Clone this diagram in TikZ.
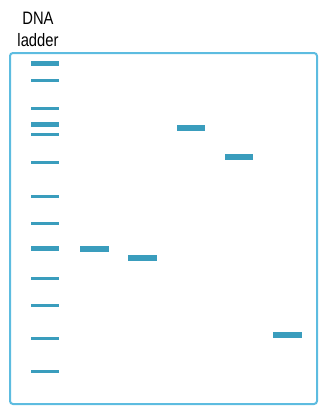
\documentclass[tikz,border=0pt]{standalone}
\usepackage{fontspec}
\setmainfont[FakeStretch=0.82]{Liberation Sans}
\definecolor{frame}{HTML}{5DBCE0}
\definecolor{band}{HTML}{3A9DBD}
\begin{document}
\begin{tikzpicture}[x=1pt,y=-1pt,
  thinband/.style={draw=band,line width=3pt},
  thickband/.style={draw=band,line width=5pt},
  sampleband/.style={draw=band,line width=5.5pt},
  lbl/.style={font=\fontsize{18}{22}\selectfont,align=center,inner sep=0pt}]
\useasboundingbox (0,0) rectangle (323,407);
\node[lbl,anchor=base] (t1) at (38,24) {DNA};
\node[lbl,anchor=base] (t2) at (38,46) {ladder};
\draw[frame,line width=2pt,rounded corners=3pt] (10,53) rectangle (317,404);
% ladder
\foreach \y in {80,108,134,162,196,223,278,305,338,371}
  \draw[thinband] (31,\y) -- (59,\y);
\foreach \y in {63,124,248}
  \draw[thickband] (31,\y) -- (59,\y);
% samples
\draw[sampleband] (80,249) -- (109,249);
\draw[sampleband] (128,258) -- (157,258);
\draw[sampleband] (177,128) -- (205,128);
\draw[sampleband] (225,157) -- (253,157);
\draw[sampleband] (273,335) -- (302,335);
\end{tikzpicture}
\end{document}
